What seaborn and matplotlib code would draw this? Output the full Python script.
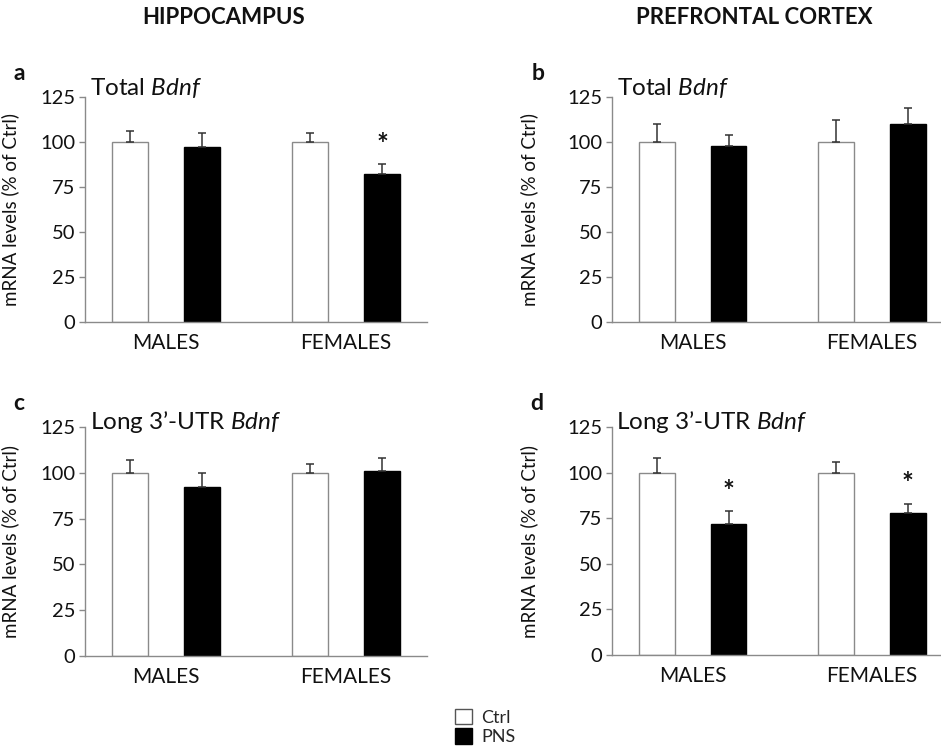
import matplotlib
matplotlib.use("Agg")
import matplotlib.pyplot as plt
import matplotlib.patches as mpatches
from matplotlib.container import BarContainer
import pandas as pd
import seaborn as sns

# ---- data ---------------------------------------------------------------
sexes = ["MALES", "FEMALES"]
groups = ["Ctrl", "PNS"]

# Hippocampus, total Bdnf
hip_total_ctrl = [100, 100]
hip_total_ctrl_sem = [6, 5]
hip_total_pns = [97, 82]
hip_total_pns_sem = [8, 6]
hip_total_sig = [False, True]

# Prefrontal cortex, total Bdnf
pfc_total_ctrl = [100, 100]
pfc_total_ctrl_sem = [10, 12]
pfc_total_pns = [98, 110]
pfc_total_pns_sem = [6, 9]
pfc_total_sig = [False, False]

# Hippocampus, long 3'-UTR Bdnf
hip_long_ctrl = [100, 100]
hip_long_ctrl_sem = [7, 5]
hip_long_pns = [92, 101]
hip_long_pns_sem = [8, 7]
hip_long_sig = [False, False]

# Prefrontal cortex, long 3'-UTR Bdnf
pfc_long_ctrl = [100, 100]
pfc_long_ctrl_sem = [8, 6]
pfc_long_pns = [72, 78]
pfc_long_pns_sem = [7, 5]
pfc_long_sig = [True, True]

y_ticks = [0, 25, 50, 75, 100, 125]
y_label = "mRNA levels (% of Ctrl)"

# ---- style --------------------------------------------------------------
sns.set_theme(style="white")
plt.rcParams["font.family"] = ["Lato", "DejaVu Sans"]
plt.rcParams["mathtext.fontset"] = "custom"
plt.rcParams["mathtext.rm"] = "Lato"
plt.rcParams["mathtext.it"] = "Lato:italic"

SPINE = "#8a8a8a"
INK = "#111111"

W, H = 941, 747
fig = plt.figure(figsize=(W / 100, H / 100), dpi=100)


def fx(px):
    return px / W


def fy(py):
    return 1 - py / H


def ax_at(x0, x1, ytop, ybot):
    return fig.add_axes([fx(x0), fy(ybot), (x1 - x0) / W, (ybot - ytop) / H])


def panel(ax, ctrl, ctrl_sem, pns, pns_sem, sig, xmax, ylab_x):
    df = pd.DataFrame({
        "sex": sexes * 2,
        "group": ["Ctrl"] * 2 + ["PNS"] * 2,
        "value": list(ctrl) + list(pns),
    })
    sns.barplot(data=df, x="sex", y="value", hue="group", order=sexes,
                hue_order=groups, palette={"Ctrl": "white", "PNS": "black"},
                width=0.8, gap=0.5, errorbar=None, legend=False,
                edgecolor=SPINE, linewidth=1.0, saturation=1, ax=ax)
    sems = [ctrl_sem, pns_sem]
    bar_sets = [c for c in ax.containers if isinstance(c, BarContainer)]
    for gi, cont in enumerate(bar_sets):
        bars = [b for b in cont if b is not None]
        xs = [b.get_x() + b.get_width() / 2 for b in bars]
        hs = [b.get_height() for b in bars]
        if gi == 1:
            for b in bars:
                b.set_edgecolor("black")
        ax.errorbar(xs, hs, yerr=[[0] * len(hs), sems[gi]], fmt="none",
                    ecolor="#333333", elinewidth=1.1, capsize=3.2,
                    capthick=1.1, zorder=1)
        if gi == 1:
            for x, h, s, star in zip(xs, hs, sems[gi], sig):
                if star:
                    ax.text(x, h + s + 10.5, "*", ha="center", va="center",
                            fontsize=20, fontweight="bold", color=INK)
    ax.set_ylim(0, 125)
    ax.set_xlim(-0.45, xmax)
    ax.set_yticks(y_ticks)
    ax.set_yticklabels([str(t) for t in y_ticks], fontsize=14.5, color=INK)
    ax.set_xticks([0, 1])
    ax.set_xticklabels(sexes, fontsize=15, color=INK)
    ax.tick_params(axis="y", which="major", length=4, width=1,
                   color=SPINE, direction="out", pad=3, left=True)
    ax.tick_params(axis="x", length=0, pad=8)
    ax.set_xlabel("")
    ax.set_ylabel(y_label, fontsize=13.5, color=INK)
    pos = ax.get_position()
    ax.yaxis.set_label_coords(fx(ylab_x), (pos.y0 + pos.y1) / 2,
                              transform=fig.transFigure)
    for side in ("top", "right"):
        ax.spines[side].set_visible(False)
    for side in ("left", "bottom"):
        ax.spines[side].set_color(SPINE)
        ax.spines[side].set_linewidth(1.0)


ax_a = ax_at(85, 427, 97, 322)
ax_b = ax_at(612, 941, 97, 322)
ax_c = ax_at(85, 427, 427, 656)
ax_d = ax_at(612, 941, 427, 655)

panel(ax_a, hip_total_ctrl, hip_total_ctrl_sem, hip_total_pns,
      hip_total_pns_sem, hip_total_sig, 1.45, 19.5)
panel(ax_b, pfc_total_ctrl, pfc_total_ctrl_sem, pfc_total_pns,
      pfc_total_pns_sem, pfc_total_sig, 1.385, 538.5)
panel(ax_c, hip_long_ctrl, hip_long_ctrl_sem, hip_long_pns,
      hip_long_pns_sem, hip_long_sig, 1.45, 19.5)
panel(ax_d, pfc_long_ctrl, pfc_long_ctrl_sem, pfc_long_pns,
      pfc_long_pns_sem, pfc_long_sig, 1.385, 538.5)

# panel titles and letters
titles = [(90, 88, r"Total $\mathit{Bdnf}$"),
          (617, 88, r"Total $\mathit{Bdnf}$"),
          (90, 422, r"Long 3’-UTR $\mathit{Bdnf}$"),
          (616, 422, r"Long 3’-UTR $\mathit{Bdnf}$")]
for x, y, t in titles:
    fig.text(fx(x), fy(y), t, fontsize=17.5, ha="left", va="center", color=INK)

letters = [(13, 74, "a"), (532, 73, "b"), (13, 403, "c"), (530, 403, "d")]
for x, y, t in letters:
    fig.text(fx(x), fy(y), t, fontsize=16.5, fontweight="bold",
             ha="left", va="center", color=INK)

# column headers
fig.text(fx(224), fy(18), "HIPPOCAMPUS", ha="center", va="center",
         fontsize=16, fontweight="bold", color=INK)
fig.text(fx(754), fy(18), "PREFRONTAL CORTEX", ha="center", va="center",
         fontsize=16, fontweight="bold", color=INK)

# shared legend
handles = [mpatches.Patch(facecolor="white", edgecolor="#555555", linewidth=1.0),
           mpatches.Patch(facecolor="black", edgecolor="black", linewidth=1.0)]
fig.legend(handles, groups, loc="center left",
           bbox_to_anchor=(fx(446), fy(727)), frameon=False,
           fontsize=13, handlelength=0.95, handleheight=0.95,
           handletextpad=0.5, labelspacing=0.15, borderpad=0)

fig.savefig("out.png", dpi=100, facecolor="white")
